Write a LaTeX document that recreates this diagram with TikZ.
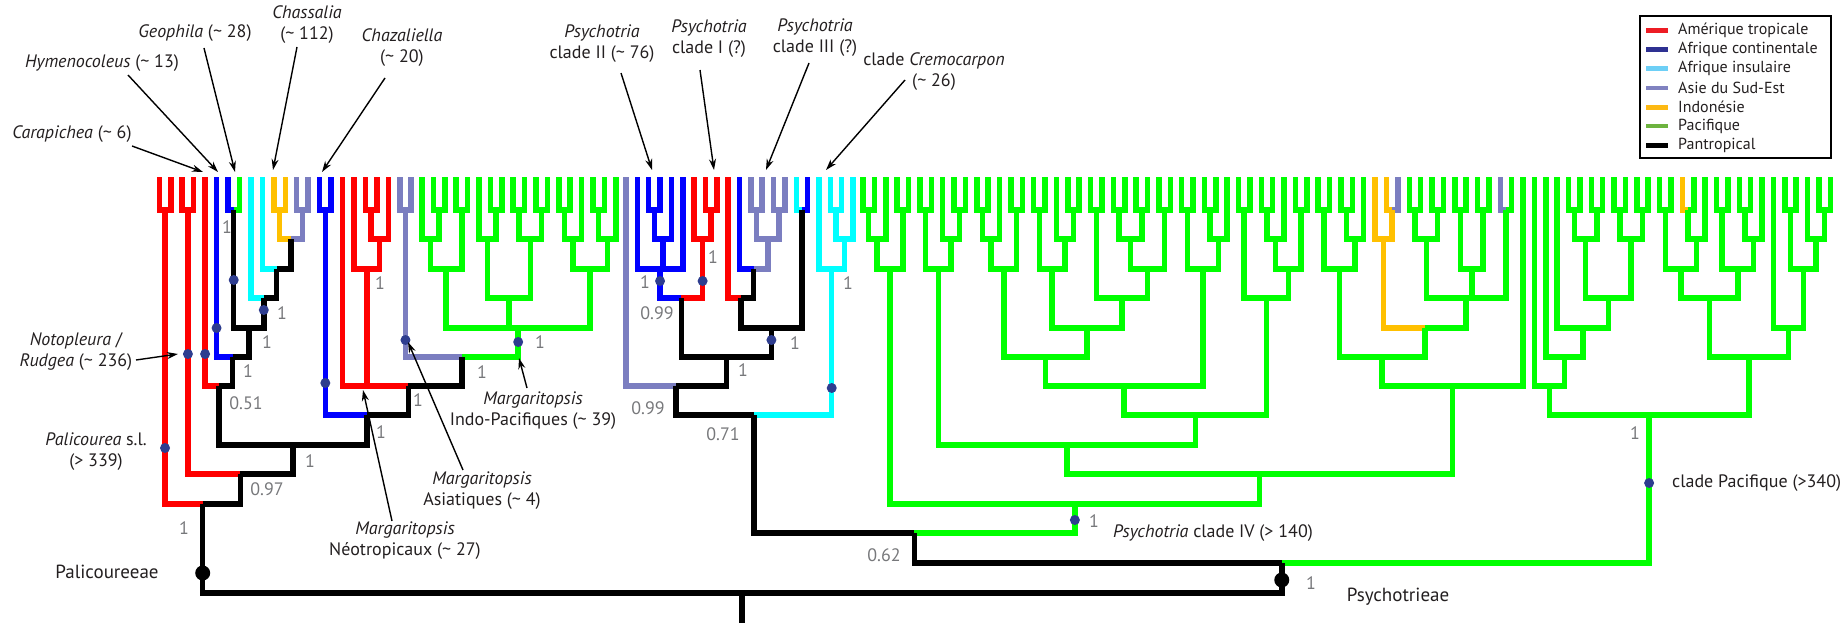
\documentclass[tikz,border=0pt]{standalone}
\usepackage{fontspec}
\setmainfont{PT Sans}
\usetikzlibrary{calc,arrows.meta}
\definecolor{tR}{HTML}{FF0000}
\definecolor{tB}{HTML}{0000FF}
\definecolor{tC}{HTML}{00FFFF}
\definecolor{tP}{HTML}{7B7EC0}
\definecolor{tO}{HTML}{FFC000}
\definecolor{tG}{HTML}{00FF00}
\definecolor{lR}{HTML}{ED1C24}
\definecolor{lB}{HTML}{2E3192}
\definecolor{lC}{HTML}{6DCFF6}
\definecolor{lP}{HTML}{8082C0}
\definecolor{lO}{HTML}{FDB913}
\definecolor{lG}{HTML}{6DB33F}
\definecolor{dotB}{HTML}{2E3D8F}
\definecolor{supg}{HTML}{77787B}
\definecolor{txt}{HTML}{231F20}
\tikzset{
  cR/.style={line width=5.5pt,draw=tR},
  cB/.style={line width=5.5pt,draw=tB},
  cC/.style={line width=5.5pt,draw=tC},
  cP/.style={line width=5.5pt,draw=tP},
  cO/.style={line width=5.5pt,draw=tO},
  cG/.style={line width=5.5pt,draw=tG},
  cK/.style={line width=5.5pt,draw=black},
  ann/.style={font=\fontsize{18}{21}\selectfont,text=txt,inner sep=0pt,align=center},
  big/.style={font=\fontsize{19}{22}\selectfont,text=txt,inner sep=0pt},
  sup/.style={font=\fontsize{18}{20}\selectfont,text=supg,inner sep=0pt},
  leg/.style={font=\fontsize{16}{18}\selectfont,text=txt,inner sep=0pt,anchor=west},
  arr/.style={line width=1.4pt,-{Stealth[length=11pt,width=7pt]}},
  bdot/.style={fill=dotB},
}
\newcommand\ND[6]{\path let \p1=($(#3)!0.5!(#5)$) in coordinate (#1) at (\x1,-#2pt);
  \draw[#4] (#1) -| (#3);\draw[#6] (#1) -| (#5);}
\newcommand\NDT[8]{\path let \p1=($(#3)!0.5!(#7)$) in coordinate (#1) at (\x1,-#2pt);
  \draw[#4] (#1) -| (#3);\draw[#6] (#1) -| (#5);\draw[#8] (#1) -| (#7);}
\newcommand\TL{\textasciitilde}
\begin{document}
\begin{tikzpicture}[x=1pt,y=-1pt]
\useasboundingbox (0,0) rectangle (1843,623);
% tips
\foreach \i in {0,...,22}{\coordinate (L\i) at ({159.3+11.45*\i},177);}
\foreach \i in {0,...,17}{\coordinate (M\i) at ({422+11.4*\i},177);}
\foreach \i in {0,...,20}{\coordinate (N\i) at ({626+11.35*\i},177);}
\foreach \i in {0,...,85}{\coordinate (G\i) at ({863+11.38*\i},177);}
% ---------- Palicoureeae ----------
\ND{a1}{210}{L0}{cR}{L1}{cR}
\ND{a2}{210}{L2}{cR}{L3}{cR}
\ND{a3}{210}{L6}{cB}{L7}{cG}
\ND{a4}{210}{L10}{cO}{L11}{cO}
\ND{a5}{210}{L12}{cP}{L13}{cP}
\ND{a6}{239}{a4}{cO}{a5}{cP}
\ND{a7}{269}{L9}{cC}{a6}{cK}
\ND{a8}{298}{L8}{cC}{a7}{cK}
\ND{a9}{328}{a3}{cK}{a8}{cK}
\ND{a10}{357}{L5}{cB}{a9}{cK}
\ND{a11}{386}{L4}{cR}{a10}{cK}
\ND{b1}{210}{L14}{cB}{L15}{cB}
\ND{b2}{210}{L18}{cR}{L19}{cR}
\ND{b3}{239}{b2}{cR}{L20}{cR}
\ND{b4}{269}{L17}{cR}{b3}{cR}
\ND{b5}{386}{L16}{cR}{b4}{cR}
\ND{b6}{210}{L21}{cP}{L22}{cP}
\ND{c1}{210}{M1}{cG}{M2}{cG}
\ND{c2}{239}{M0}{cG}{c1}{cG}
\ND{c3}{210}{M3}{cG}{M4}{cG}
\ND{c4}{269}{c2}{cG}{c3}{cG}
\ND{c5}{210}{M6}{cG}{M7}{cG}
\ND{c6}{239}{M5}{cG}{c5}{cG}
\ND{c7}{210}{M8}{cG}{M9}{cG}
\ND{c8}{210}{M10}{cG}{M11}{cG}
\ND{c9}{239}{c7}{cG}{c8}{cG}
\ND{c10}{298}{c6}{cG}{c9}{cG}
\ND{c11}{210}{M12}{cG}{M13}{cG}
\ND{c12}{239}{c11}{cG}{M14}{cG}
\ND{c13}{210}{M15}{cG}{M16}{cG}
\ND{c14}{239}{c13}{cG}{M17}{cG}
\ND{c15}{269}{c12}{cG}{c14}{cG}
\NDT{c16}{328}{c4}{cG}{c10}{cG}{c15}{cG}
\ND{b7}{357}{b6}{cP}{c16}{cG}
\ND{b8}{386}{b5}{cR}{b7}{cK}
\ND{b9}{415}{b1}{cB}{b8}{cK}
\ND{a12}{445}{a11}{cK}{b9}{cK}
\ND{a13}{474}{a2}{cR}{a12}{cK}
\ND{a14}{504}{a1}{cR}{a13}{cK}
% ---------- Psychotria II, I, III, Cremocarpon ----------
\ND{d1}{210}{N2}{cB}{N3}{cB}
\ND{d2}{239}{d1}{cB}{N4}{cB}
\NDT{d3}{269}{N1}{cB}{d2}{cB}{N5}{cB}
\ND{d4}{210}{N7}{cR}{N8}{cR}
\ND{d5}{239}{N6}{cR}{d4}{cR}
\ND{d6}{298}{d3}{cB}{d5}{cR}
\ND{d7}{210}{N11}{cP}{N12}{cP}
\ND{d8}{210}{N13}{cP}{N14}{cP}
\ND{d9}{239}{d7}{cP}{d8}{cP}
\ND{d10}{269}{N10}{cB}{d9}{cP}
\ND{d11}{298}{N9}{cR}{d10}{cK}
\ND{d12}{210}{N15}{cC}{N16}{cB}
\ND{d13}{328}{d11}{cK}{d12}{cK}
\ND{d14}{357}{d6}{cK}{d13}{cK}
\ND{d15}{386}{N0}{cP}{d14}{cK}
\ND{e1}{210}{N18}{cC}{N19}{cC}
\ND{e2}{239}{e1}{cC}{N20}{cC}
\ND{e3}{269}{N17}{cC}{e2}{cC}
\ND{d16}{415}{d15}{cK}{e3}{cC}
% ---------- Psychotria clade IV ----------
\ND{g1}{210}{G0}{cG}{G1}{cG}
\ND{g2}{239}{g1}{cG}{G2}{cG}
\ND{g3}{210}{G3}{cG}{G4}{cG}
\ND{g4}{269}{g2}{cG}{g3}{cG}
\ND{g5}{210}{G5}{cG}{G6}{cG}
\ND{g6}{210}{G8}{cG}{G9}{cG}
\ND{g7}{239}{G7}{cG}{g6}{cG}
\ND{g8}{269}{g5}{cG}{g7}{cG}
\ND{g9}{210}{G10}{cG}{G11}{cG}
\ND{g10}{239}{g9}{cG}{G12}{cG}
\ND{g11}{210}{G13}{cG}{G14}{cG}
\ND{g12}{269}{g10}{cG}{g11}{cG}
\ND{g13}{210}{G15}{cG}{G16}{cG}
\ND{g14}{210}{G18}{cG}{G19}{cG}
\ND{g15}{239}{G17}{cG}{g14}{cG}
\ND{g16}{269}{g13}{cG}{g15}{cG}
\ND{g17}{210}{G20}{cG}{G21}{cG}
\ND{g18}{210}{G22}{cG}{G23}{cG}
\ND{g19}{210}{G24}{cG}{G25}{cG}
\ND{g20}{239}{g18}{cG}{g19}{cG}
\ND{g21}{210}{G26}{cG}{G27}{cG}
\ND{g22}{269}{g20}{cG}{g21}{cG}
\ND{g23}{298}{g17}{cG}{g22}{cG}
\ND{g24}{328}{g16}{cG}{g23}{cG}
\ND{g25}{357}{g12}{cG}{g24}{cG}
\ND{g26}{210}{G28}{cG}{G29}{cG}
\ND{g27}{210}{G30}{cG}{G31}{cG}
\ND{g28}{239}{g27}{cG}{G32}{cG}
\ND{g29}{269}{g26}{cG}{g28}{cG}
\ND{g30}{386}{g25}{cG}{g29}{cG}
\ND{g31}{210}{G33}{cG}{G34}{cG}
\ND{g32}{210}{G35}{cG}{G36}{cG}
\ND{g33}{239}{g32}{cG}{G37}{cG}
\ND{g34}{210}{G38}{cG}{G39}{cG}
\ND{g35}{269}{g33}{cG}{g34}{cG}
\ND{g36}{298}{g31}{cG}{g35}{cG}
\ND{g37}{415}{g30}{cG}{g36}{cG}
\ND{g38}{445}{g8}{cG}{g37}{cG}
\ND{g39}{210}{G40}{cG}{G41}{cG}
\ND{g40}{210}{G42}{cG}{G43}{cG}
\ND{g41}{239}{g40}{cG}{G44}{cG}
\ND{g42}{269}{g39}{cG}{g41}{cG}
\ND{g43}{210}{G46}{cO}{G47}{cP}
\ND{g44}{239}{G45}{cO}{g43}{cO}
\ND{g45}{210}{G48}{cG}{G49}{cG}
\ND{g46}{210}{G50}{cG}{G51}{cG}
\ND{g47}{239}{g45}{cG}{g46}{cG}
\ND{g48}{210}{G52}{cG}{G53}{cG}
\ND{g49}{210}{G54}{cG}{G55}{cG}
\ND{g50}{269}{g48}{cG}{g49}{cG}
\ND{g51}{210}{G56}{cP}{G57}{cG}
\NDT{g52}{298}{g47}{cG}{g50}{cG}{g51}{cG}
\ND{g53}{328}{g44}{cO}{g52}{cG}
\ND{g54}{357}{g42}{cG}{g53}{cG}
\ND{g55}{386}{g54}{cG}{G58}{cG}
\ND{g56}{474}{g38}{cG}{g55}{cG}
\ND{g57}{504}{g4}{cG}{g56}{cG}
% ---------- Pacific clade ----------
\ND{h1}{210}{G62}{cG}{G63}{cG}
\ND{h2}{210}{G64}{cG}{G65}{cG}
\ND{h3}{239}{h1}{cG}{h2}{cG}
\ND{h4}{210}{G66}{cG}{G67}{cG}
\ND{h5}{210}{G68}{cG}{G69}{cG}
\ND{h6}{239}{h4}{cG}{h5}{cG}
\ND{h7}{298}{h3}{cG}{h6}{cG}
\ND{h8}{328}{G61}{cG}{h7}{cG}
\ND{h9}{357}{G60}{cG}{h8}{cG}
\ND{h10}{386}{G59}{cG}{h9}{cG}
\ND{h11}{210}{G70}{cG}{G71}{cG}
\ND{h12}{210}{G72}{cO}{G73}{cG}
\ND{h13}{239}{h12}{cG}{G74}{cG}
\ND{h14}{269}{h11}{cG}{h13}{cG}
\ND{h15}{210}{G75}{cG}{G76}{cG}
\ND{h16}{210}{G77}{cG}{G78}{cG}
\ND{h17}{239}{h16}{cG}{G79}{cG}
\ND{h18}{269}{h15}{cG}{h17}{cG}
\ND{h19}{298}{h14}{cG}{h18}{cG}
\ND{h20}{210}{G81}{cG}{G82}{cG}
\ND{h21}{210}{G84}{cG}{G85}{cG}
\ND{h22}{239}{G83}{cG}{h21}{cG}
\ND{h23}{269}{h20}{cG}{h22}{cG}
\ND{h24}{328}{G80}{cG}{h23}{cG}
\ND{h25}{357}{h19}{cG}{h24}{cG}
\ND{h26}{415}{h10}{cG}{h25}{cG}
% ---------- backbone ----------
\ND{z1}{533}{d16}{cK}{g57}{cG}
\ND{z2}{563}{z1}{cK}{h26}{cG}
\ND{z3}{593}{a14}{cK}{z2}{cK}
\coordinate (rb) at (0,623);
\draw[cK] (z3) -- (z3 |- rb);
% ---------- dots ----------
\foreach \c/\yy in {a8/310,a3/280,L5/328,a2/354,L4/354,a1/448,b1/383,b6/340,c16/342,d3/281,d5/281,d13/340,e3/388,g57/520,h26/483}
  {\fill[bdot] (\c |- 0,\yy) circle (5);}
\fill[black] (a14 |- 0,573) circle (7.5);
\fill[black] (z2 |- 0,580) circle (7.5);
% ---------- support values ----------
\node[sup] (s1) at (227,227) {1};
\node[sup] (s2) at (282,313) {1};
\node[sup] (s3) at (267,342) {1};
\node[sup] (s4) at (248,371) {1};
\node[sup] (s5) at (246,403) {0.51};
\node[sup] (s6) at (310,461) {1};
\node[sup] (s7) at (267,489) {0.97};
\node[sup] (s8) at (184,528) {1};
\node[sup] (s9) at (380,283) {1};
\node[sup] (s10) at (381,432) {1};
\node[sup] (s11) at (418,400) {1};
\node[sup] (s12) at (482,372) {1};
\node[sup] (s13) at (540,342) {1};
\node[sup] (s14) at (645,282) {1};
\node[sup] (s15) at (713,257) {1};
\node[sup] (s16) at (657,313) {0.99};
\node[sup] (s17) at (795,343) {1};
\node[sup] (s18) at (743,370) {1};
\node[sup] (s19) at (648,408) {0.99};
\node[sup] (s20) at (723,434) {0.71};
\node[sup] (s21) at (848,283) {1};
\node[sup] (s22) at (884,555) {0.62};
\node[sup] (s23) at (1094,521) {1};
\node[sup] (s24) at (1311,583) {1};
\node[sup] (s25) at (1635,433) {1};
% ---------- labels ----------
\node[ann] (carap) at (72,134) {\textit{Carapichea} (\TL{} 6)};
\node[ann] (hymen) at (102,63) {\textit{Hymenocoleus} (\TL{} 13)};
\node[ann] (geoph) at (195,33) {\textit{Geophila} (\TL{} 28)};
\node[ann] (chass) at (307,25) {\textit{Chassalia}\\(\TL{} 112)};
\node[ann] (chaz) at (402,48) {\textit{Chazaliella}\\(\TL{} 20)};
\node[ann] (noto) at (76,352) {\textit{Notopleura} /\\\textit{Rudgea} (\TL{} 236)};
\node[ann] (palic) at (96,452) {\textit{Palicourea} s.l.\\(> 339)};
\node[big] (palicoureeae) at (107,572) {Palicoureeae};
\node[ann] (margN) at (405,541) {\textit{Margaritopsis}\\Néotropicaux (\TL{} 27)};
\node[ann] (margA) at (482,491) {\textit{Margaritopsis}\\Asiatiques (\TL{} 4)};
\node[ann] (margI) at (533,411) {\textit{Margaritopsis}\\Indo-Pacifiques (\TL{} 39)};
\node[ann] (psyII) at (602,44) {\textit{Psychotria}\\clade II (\TL{} 76)};
\node[ann] (psyI) at (709,39) {\textit{Psychotria}\\clade I (?)};
\node[ann] (psyIII) at (815,38) {\textit{Psychotria}\\clade III (?)};
\node[ann] (crem) at (934,72) {clade \textit{Cremocarpon}\\(\TL{} 26)};
\node[ann] (psyIV) at (1213,533) {\textit{Psychotria} clade IV (> 140)};
\node[ann,anchor=west] (pacif) at (1672,483) {clade Pacifique (>340)};
\node[big] (psychotrieae) at (1398,597) {Psychotrieae};
% ---------- arrows ----------
\foreach \n/\ax/\ay/\bx/\by in {ar1/132/146/203/172, ar2/128/75/218/172, ar3/204/48/235/172, ar4/297/47/273/170, ar5/385/78/322/172, ar6/136/360/178/354, ar7/392/521/363/390, ar8/463/470/408/342, ar9/527/388/519/358, ar10/621/73/652/170, ar11/700/70/714/170, ar12/809/63/766/170, ar13/905/80/826/170}
  {\coordinate (\n s) at (\ax,\ay); \coordinate (\n e) at (\bx,\by); \draw[arr] (\n s) -- (\n e);}
% ---------- legend ----------
\node[draw=black,line width=1.5pt,minimum width=191pt,minimum height=142pt,inner sep=0pt] (legbox) at (1735.5,87) {};
\foreach \col/\yy/\txt [count=\k] in {lR/30.7/Amérique tropicale, lB/49.5/Afrique continentale, lC/68.7/Afrique insulaire, lP/88.2/Asie du Sud-Est, lO/107.3/Indonésie, lG/126.2/Pacifique, black/145.3/Pantropical}
  {\coordinate (lg\k a) at (1646,\yy); \coordinate (lg\k b) at (1668,\yy);
   \draw[line width=4.5pt,draw=\col] (lg\k a) -- (lg\k b);
   \node[leg] (lt\k) at (1678,\yy) {\txt};}
\end{tikzpicture}
\end{document}
